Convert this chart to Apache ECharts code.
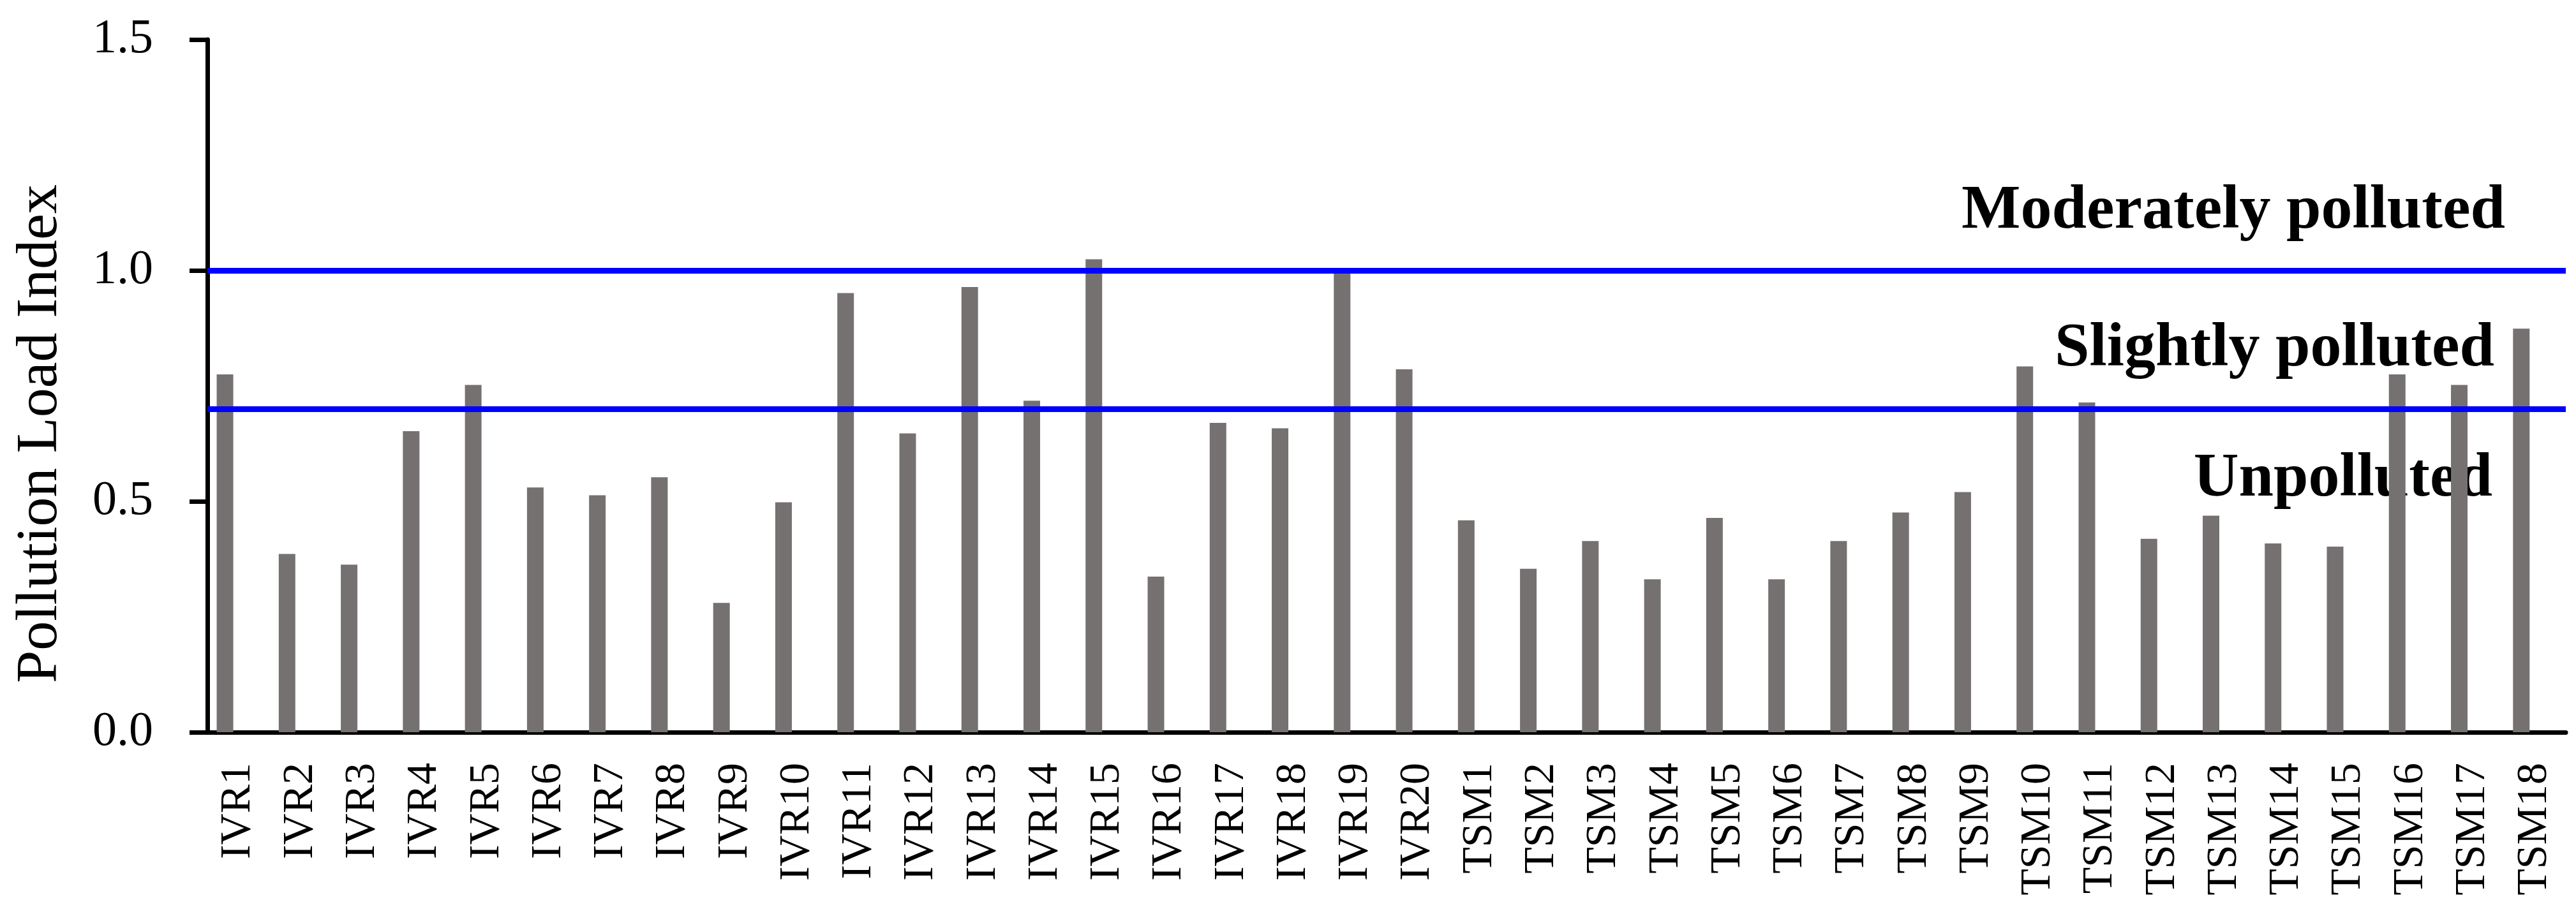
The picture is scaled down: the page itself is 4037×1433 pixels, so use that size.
<!DOCTYPE html>
<html>
<head>
<meta charset="utf-8">
<title>Pollution Load Index</title>
<script src="https://cdn.jsdelivr.net/npm/echarts@6/dist/echarts.min.js"></script>
<style>
  html, body { margin: 0; padding: 0; background: #fff; }
  #chart { width: 4037px; height: 1433px; }
</style>
</head>
<body>
<div id="chart"></div>
<script>
  // sites
  const ivrSites = ['IVR1', 'IVR2', 'IVR3', 'IVR4', 'IVR5', 'IVR6', 'IVR7', 'IVR8', 'IVR9', 'IVR10',
    'IVR11', 'IVR12', 'IVR13', 'IVR14', 'IVR15', 'IVR16', 'IVR17', 'IVR18', 'IVR19', 'IVR20']
  const tsmSites = ['TSM1', 'TSM2', 'TSM3', 'TSM4', 'TSM5', 'TSM6', 'TSM7', 'TSM8', 'TSM9',
    'TSM10', 'TSM11', 'TSM12', 'TSM13', 'TSM14', 'TSM15', 'TSM16', 'TSM17', 'TSM18']

  // PLI values
  const ivrPli = [0.775, 0.386, 0.363, 0.652, 0.752, 0.530, 0.513, 0.552, 0.280, 0.498,
    0.951, 0.647, 0.964, 0.718, 1.024, 0.337, 0.670, 0.658, 0.994, 0.786]
  const tsmPli = [0.459, 0.354, 0.414, 0.331, 0.464, 0.331, 0.414, 0.476, 0.520,
    0.792, 0.714, 0.419, 0.469, 0.409, 0.402, 0.775, 0.752, 0.874]

  // class boundaries
  const thresholds = [0.7, 1.0]
  const classLabels = ['Moderately polluted', 'Slightly polluted', 'Unpolluted']
  const yTicks = [0, 0.5, 1.0, 1.5]

  const categories = ivrSites.concat(tsmSites)
  const values = ivrPli.concat(tsmPli)

  const serif = 'Liberation Serif'
  const chart = echarts.init(document.getElementById('chart'))

  const options = {
    animation: false,
    backgroundColor: '#ffffff',
    grid: { left: 325, right: 16, top: 62, bottom: 285 },
    xAxis: {
      type: 'category',
      data: categories,
      axisLine: { lineStyle: { color: '#000', width: 7 } },
      axisTick: { show: false },
      axisLabel: {
        interval: 0,
        rotate: 90,
        margin: 48,
        color: '#000',
        fontFamily: serif,
        fontSize: 68
      }
    },
    yAxis: {
      type: 'value',
      min: yTicks[0],
      max: yTicks[yTicks.length - 1],
      interval: 0.5,
      splitLine: { show: false },
      axisLine: { show: true, lineStyle: { color: '#000', width: 7 } },
      axisTick: { show: true, length: 28, lineStyle: { color: '#000', width: 7 } },
      axisLabel: {
        margin: 85,
        color: '#000',
        fontFamily: serif,
        fontSize: 76,
        formatter: v => v.toFixed(1)
      }
    },
    series: [
      {
        name: 'PLI',
        type: 'bar',
        data: values,
        barWidth: 26,
        barGap: '62%',
        itemStyle: { color: '#767171' },
        markLine: {
          silent: true,
          symbol: 'none',
          label: { show: false },
          lineStyle: { color: '#0000ff', width: 9, type: 'solid' },
          data: thresholds.map(t => ({ yAxis: t }))
        },
        z: 2
      },
      {
        // empty second series of the original clustered chart (shifts bars left)
        name: '',
        type: 'bar',
        data: [],
        barWidth: 26
      }
    ],
    graphic: [
      {
        type: 'text',
        x: 64, y: 680,
        rotation: Math.PI / 2,
        style: {
          text: 'Pollution Load Index',
          font: '92px "Liberation Serif"',
          fill: '#000',
          textAlign: 'center',
          textVerticalAlign: 'middle'
        }
      },
      {
        type: 'text',
        x: 3926, y: 332,
        style: {
          text: classLabels[0],
          font: 'bold 98px "Liberation Serif"',
          fill: '#000',
          textAlign: 'right',
          textVerticalAlign: 'middle'
        }
      },
      {
        type: 'text',
        x: 3909, y: 548,
        style: {
          text: classLabels[1],
          font: 'bold 98px "Liberation Serif"',
          fill: '#000',
          textAlign: 'right',
          textVerticalAlign: 'middle'
        }
      },
      {
        type: 'text',
        x: 3906, y: 752,
        style: {
          text: classLabels[2],
          font: 'bold 98px "Liberation Serif"',
          fill: '#000',
          textAlign: 'right',
          textVerticalAlign: 'middle'
        }
      }
    ]
  }

  chart.setOption(options)
</script>
</body>
</html>
